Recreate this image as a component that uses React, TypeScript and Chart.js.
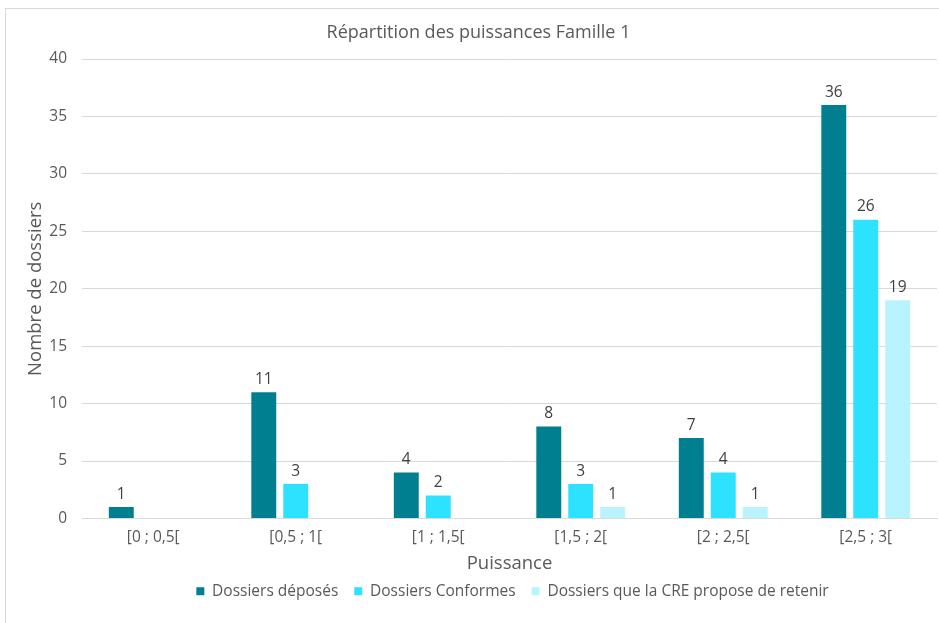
import React, { useEffect, useRef } from "react";
import { Chart, registerables } from "chart.js";

Chart.register(...registerables);

const categories = ["[0 ; 0,5[", "[0,5 ; 1[", "[1 ; 1,5[", "[1,5 ; 2[", "[2 ; 2,5[", "[2,5 ; 3["];
const deposes = [1, 11, 4, 8, 7, 36];
const conformes = [null, 3, 2, 3, 4, 26];
const retenus = [null, null, null, 1, 1, 19];
const seriesNames = ["Dossiers déposés", "Dossiers Conformes", "Dossiers que la CRE propose de retenir"];
const seriesColors = ["#007F91", "#2CE2FF", "#B8F3FF"];
const yTicksMax = 40;
const yStep = 5;

const FONT = "'Open Sans', 'Noto Sans', sans-serif";
const TEXT = "#595959";

const dataLabels = {
  id: "dataLabels",
  afterDatasetsDraw(chart: any) {
    const ctx = chart.ctx;
    ctx.save();
    ctx.font = `15.5px ${FONT}`;
    ctx.fillStyle = "#404040";
    ctx.textAlign = "center";
    ctx.textBaseline = "bottom";
    chart.data.datasets.forEach((ds: any, i: number) => {
      const meta = chart.getDatasetMeta(i);
      meta.data.forEach((el: any, j: number) => {
        const v = ds.data[j];
        if (v === null || v === undefined) return;
        ctx.fillText(String(v), el.x, el.y - 5);
      });
    });
    ctx.restore();
  },
};

const shiftBlocks = {
  id: "shiftBlocks",
  afterLayout(chart: any) {
    if (chart.titleBlock) {
      chart.titleBlock.left += 10;
      chart.titleBlock.right += 10;
    }
    if (chart.legend) {
      chart.legend.left += 44;
      chart.legend.right += 44;
    }
  },
};

export default function App() {
  const ref = useRef<HTMLCanvasElement | null>(null);
  useEffect(() => {
    if (!ref.current) return;
    const chart = new Chart(ref.current, {
      type: "bar",
      data: {
        labels: categories,
        datasets: [deposes, conformes, retenus].map((d, i) => ({
          label: seriesNames[i],
          data: d,
          backgroundColor: seriesColors[i],
          borderWidth: 0,
          categoryPercentage: 0.673,
          barPercentage: 0.78,
        })),
      },
      options: {
        responsive: false,
        animation: false,
        layout: { padding: { left: 0, right: 2, top: 0, bottom: 14 } },
        plugins: {
          title: {
            display: true,
            text: "Répartition des puissances Famille 1",
            color: TEXT,
            font: { family: FONT, size: 18, weight: "normal" },
            padding: { top: 22.5, bottom: 14.9 },
          },
          legend: {
            position: "bottom",
            labels: {
              boxWidth: 8,
              boxHeight: 8,
              color: TEXT,
              font: { family: FONT, size: 15.5 },
              padding: 16,
            },
          },
          tooltip: { enabled: false },
        },
        scales: {
          x: {
            grid: { display: false, drawTicks: false },
            border: { display: true, color: "#D9D9D9" },
            ticks: { color: TEXT, font: { family: FONT, size: 15.5 }, padding: 10 },
            title: {
              display: true,
              text: "Puissance",
              color: TEXT,
              font: { family: FONT, size: 18.5 },
              padding: { top: 0, bottom: -7.8 },
            },
            afterFit: (s: any) => {
              s.height = 49;
            },
          },
          y: {
            min: 0,
            max: yTicksMax,
            grid: { color: "#D9D9D9", drawTicks: false },
            border: { display: false },
            ticks: { stepSize: yStep, color: TEXT, font: { family: FONT, size: 15.5 }, padding: 15 },
            title: {
              display: true,
              text: "Nombre de dossiers",
              color: TEXT,
              font: { family: FONT, size: 18.5 },
              padding: { top: 25, bottom: 0 },
            },
            afterFit: (s: any) => {
              s.width = 82;
            },
          },
        },
      },
      plugins: [dataLabels, shiftBlocks],
    });
    return () => chart.destroy();
  }, []);

  return (
    <div style={{ position: "absolute", left: 0, top: 0, width: 939, height: 623, background: "#fff" }}>
      <div
        style={{
          position: "absolute",
          left: 5,
          top: 8,
          width: 933,
          height: 614,
          borderLeft: "1px solid #D9D9D9",
          borderTop: "1px solid #D9D9D9",
        }}
      />
      <canvas
        ref={ref}
        width={939}
        height={623}
        style={{ position: "absolute", left: 0, top: 0, width: 939, height: 623 }}
      />
    </div>
  );
}
